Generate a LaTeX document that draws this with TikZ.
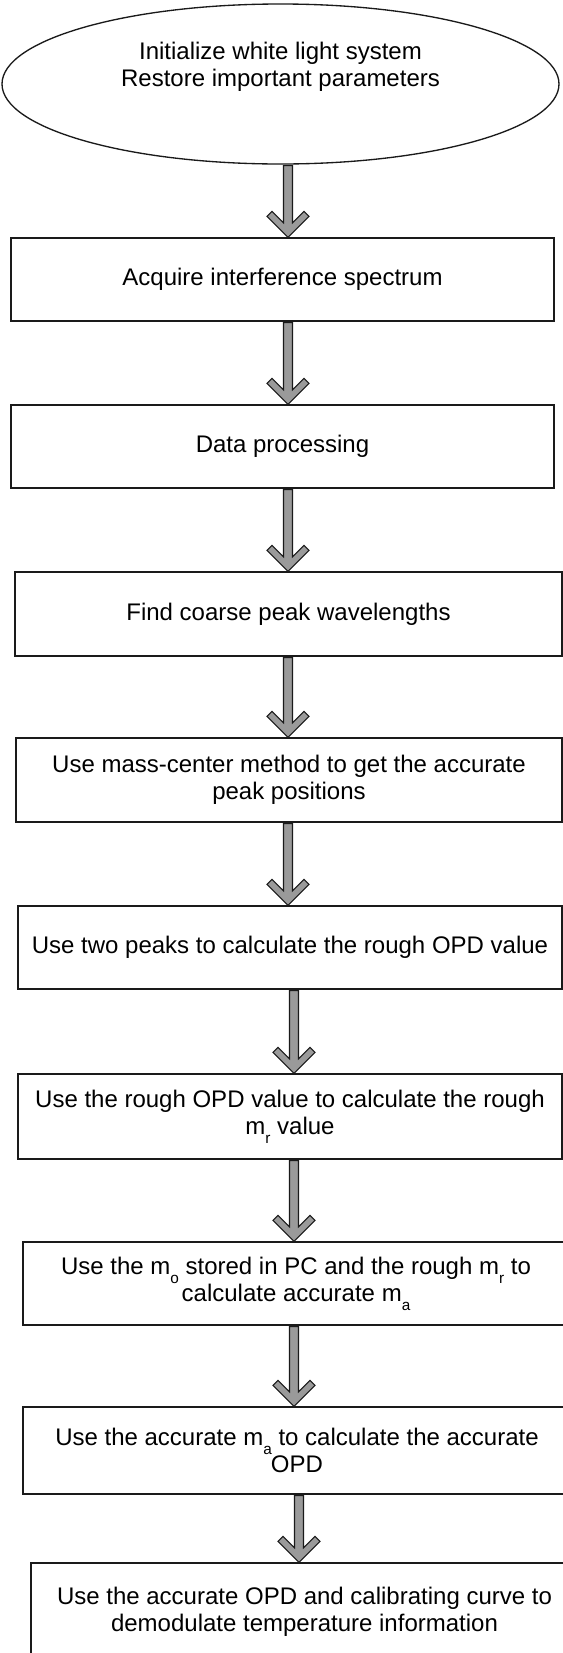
\documentclass[tikz,border=0pt]{standalone}
\usepackage{fontspec}
\setmainfont{Liberation Sans}
\usetikzlibrary{calc,shapes.geometric}
\definecolor{arrfill}{HTML}{9A9A9A}
\definecolor{edgecol}{HTML}{1A1A1A}
\newcommand\mysub[1]{\raisebox{-0.38em}{\fontsize{11.5pt}{12pt}\selectfont #1}}
\newcommand\flowarrow[3]{%
  \path (#1.south -| #3) coordinate (ftop) (#2.north -| #3) coordinate (ftip);
  \filldraw[flowarr] (ftip) -- ($(ftip)+(21,-21)$) -- ($(ftip)+(16,-26)$) -- ($(ftip)+(4.5,-14.5)$)
    -- ($(ftop)+(4.5,1)$) -- ($(ftop)+(-4.5,1)$) -- ($(ftip)+(-4.5,-14.5)$)
    -- ($(ftip)+(-16,-26)$) -- ($(ftip)+(-21,-21)$) -- cycle;}
\begin{document}
\begin{tikzpicture}[x=0.75pt,y=-0.75pt,
  stepbox/.style={draw=edgecol, line width=1pt, rectangle, align=center,
    font=\fontsize{18pt}{20.25pt}\selectfont, inner sep=0pt},
  startell/.style={draw=edgecol, line width=1pt, ellipse, inner sep=0pt,
    minimum width=417.75pt, minimum height=120pt},
  txt/.style={align=center, font=\fontsize{18pt}{20.25pt}\selectfont, inner sep=0pt},
  flowarr/.style={fill=arrfill, draw=edgecol, line width=0.8pt, line join=miter}]
\useasboundingbox (0,0) rectangle (563,1653);
\clip (0,0) rectangle (563,1653);
\fill[white] (0,0) rectangle (563,1653);
\coordinate (xa) at (288,0);
\coordinate (xb) at (294,0);
\coordinate (xc) at (299,0);

\node[startell] (s0) at (280.5,84) {};
\node[txt] (s0t) at (280.5,67) {Initialize white light system\\Restore important parameters};

\node[stepbox, minimum width=407.25pt, minimum height=62.25pt] (s1) at (282.5,279.5) {Acquire interference spectrum};
\node[stepbox, minimum width=407.25pt, minimum height=62.25pt] (s2) at (282.5,446.5) {Data processing};
\node[stepbox, minimum width=410.25pt, minimum height=63pt] (s3) at (288.5,614) {Find coarse peak wavelengths};
\node[stepbox, minimum width=409.5pt, minimum height=63pt] (s4) at (289,780) {Use mass-center method to get the accurate\\peak positions};
\node[stepbox, minimum width=408pt, minimum height=62.25pt] (s5) at (290,947.5) {Use two peaks to calculate the rough OPD value};
\node[stepbox, minimum width=408pt, minimum height=63.75pt] (s6) at (290,1116.5) {Use the rough OPD value to calculate the rough\\m\mysub{r} value};
\node[stepbox, minimum width=409.5pt, minimum height=62.25pt] (s7) at (296,1283.5) {Use the m\mysub{o} stored in PC and the rough m\mysub{r} to\\calculate accurate m\mysub{a}};
\node[stepbox, minimum width=411pt, minimum height=65.25pt] (s8) at (297,1450.5) {Use the accurate m\mysub{a} to calculate the accurate\\OPD};
\node[stepbox, minimum width=410.25pt, minimum height=73.5pt] (s9) at (304.5,1612) {Use the accurate OPD and calibrating curve to\\demodulate temperature information};

\flowarrow{s0}{s1}{xa}
\flowarrow{s1}{s2}{xa}
\flowarrow{s2}{s3}{xa}
\flowarrow{s3}{s4}{xa}
\flowarrow{s4}{s5}{xa}
\flowarrow{s5}{s6}{xb}
\flowarrow{s6}{s7}{xb}
\flowarrow{s7}{s8}{xb}
\flowarrow{s8}{s9}{xc}
\end{tikzpicture}
\end{document}
